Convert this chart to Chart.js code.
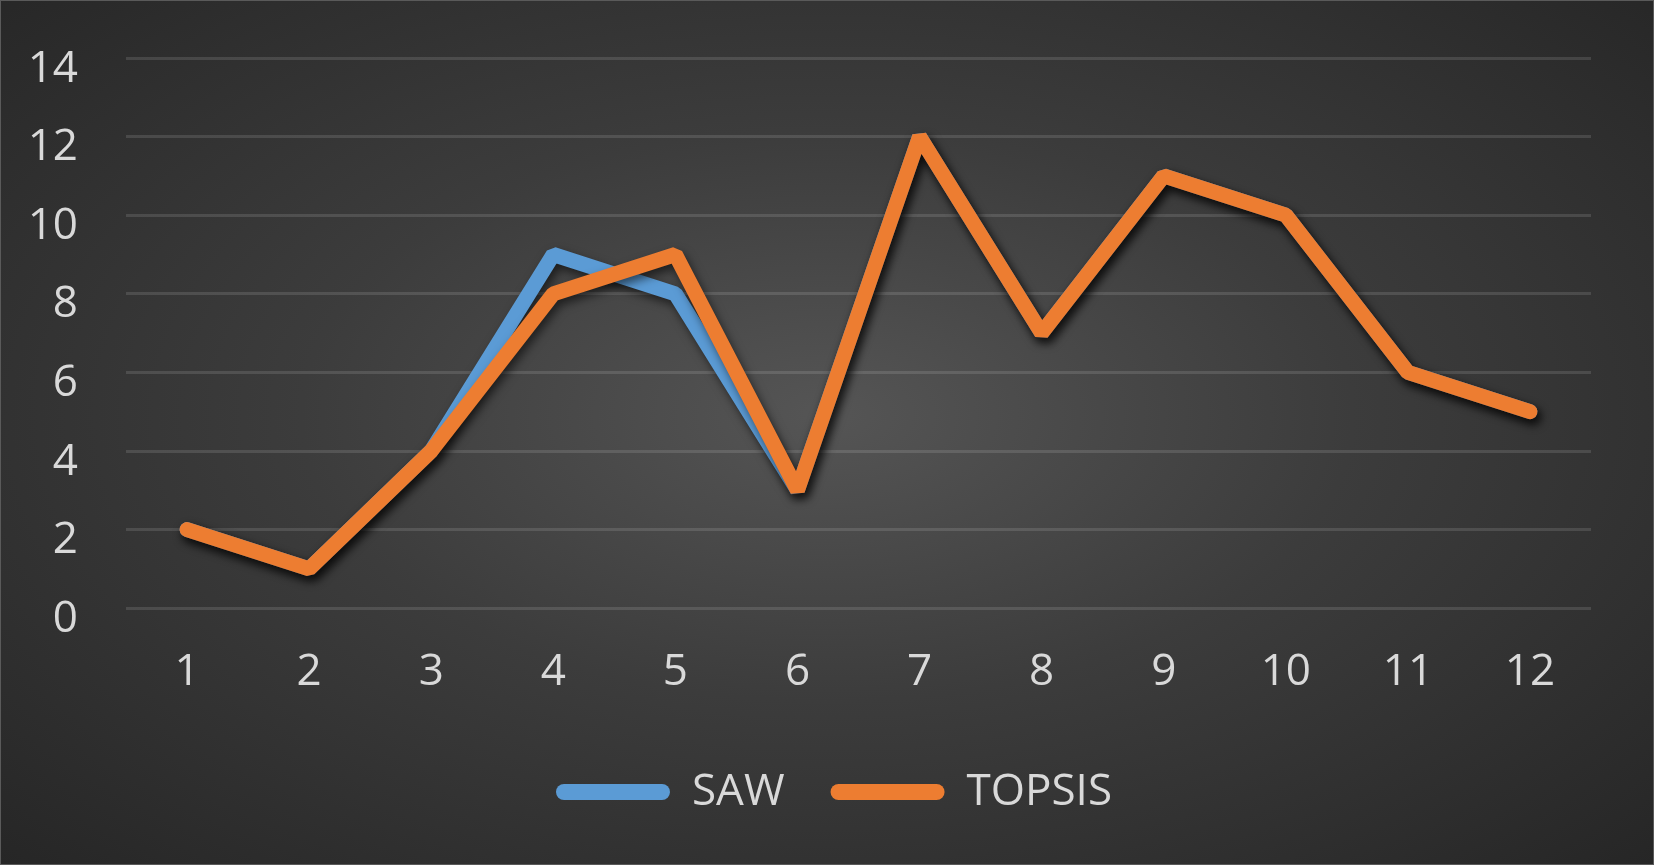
<!DOCTYPE html>
<html>
<head>
<meta charset="utf-8">
<script src="https://cdn.jsdelivr.net/npm/chart.js@4/dist/chart.umd.min.js"></script>
<style>
  html, body { margin: 0; padding: 0; background: #262626; }
  #wrap {
    width: 1654px; height: 865px; box-sizing: border-box;
    border: 1px solid #5a5a5a;
    background: radial-gradient(ellipse farthest-corner at 50% 48%, #555555 0%, #3c3c3c 45%, #262626 100%);
  }
  canvas { display: block; }
</style>
</head>
<body>
<div id="wrap"><canvas id="chart" width="1652" height="863"></canvas></div>
<script>
// --- DATA ---
const categories = ['1', '2', '3', '4', '5', '6', '7', '8', '9', '10', '11', '12'];
const sawValues = [2, 1, 4, 9, 8, 3, 12, 7, 11, 10, 6, 5];
const topsisValues = [2, 1, 4, 8, 9, 3, 12, 7, 11, 10, 6, 5];
const yTicks = [0, 2, 4, 6, 8, 10, 12, 14];

const textColor = '#d9d9d9';
const fontFamily = '"Open Sans", "Noto Sans", sans-serif';
const fontSize = 44;

// soft drop shadow under each line, like the office chart style
const lineShadow = {
    id: 'lineShadow',
    beforeDatasetDraw(chart) {
        const ctx = chart.ctx;
        ctx.save();
        ctx.shadowColor = 'rgba(0, 0, 0, 0.55)';
        ctx.shadowBlur = 10;
        ctx.shadowOffsetX = 3;
        ctx.shadowOffsetY = 5;
    },
    afterDatasetDraw(chart) {
        chart.ctx.restore();
    }
};

// move the legend row a bit right and lift it back up
// (its big label padding would otherwise push it down)
const legendShift = {
    id: 'legendShift',
    afterLayout(chart) {
        const lg = chart.legend;
        lg.left += 38;
        lg.right += 38;
        lg.top -= 13;
        lg.bottom -= 13;
    }
};

const ctx = document.getElementById('chart').getContext('2d');
new Chart(ctx, {
    type: 'line',
    data: {
        labels: categories,
        datasets: [
            {
                label: 'SAW',
                data: sawValues,
                borderColor: '#5B9BD5',
                backgroundColor: '#5B9BD5',
                order: 1
            },
            {
                label: 'TOPSIS',
                data: topsisValues,
                borderColor: '#ED7D31',
                backgroundColor: '#ED7D31',
                order: 0
            }
        ]
    },
    options: {
        responsive: false,
        animation: false,
        layout: { padding: { left: 0, right: 62, top: 57, bottom: 27 } },
        elements: {
            line: { borderWidth: 15, tension: 0, borderCapStyle: 'round', borderJoinStyle: 'bevel' },
            point: { radius: 0, hoverRadius: 0 }
        },
        scales: {
            x: {
                offset: true,
                grid: { display: false, drawTicks: false },
                border: { display: false },
                ticks: { color: textColor, font: { family: fontFamily, size: fontSize }, padding: 38 }
            },
            y: {
                min: 0,
                max: 14,
                afterBuildTicks: (axis) => { axis.ticks = yTicks.map(v => ({ value: v })); },
                afterFit: (axis) => {
                    axis.width = 125;
                    axis.paddingTop = 0;
                    axis.paddingBottom = 0;
                },
                grid: { color: 'rgba(255, 255, 255, 0.12)', lineWidth: 3, drawTicks: false },
                border: { display: false },
                ticks: { color: textColor, font: { family: fontFamily, size: fontSize }, padding: 48, labelOffset: 11 }
            }
        },
        plugins: {
            tooltip: { enabled: false },
            legend: {
                position: 'bottom',
                labels: {
                    color: textColor,
                    font: { family: fontFamily, size: fontSize },
                    boxWidth: 114,
                    boxHeight: 16,
                    useBorderRadius: true,
                    borderRadius: 8,
                    padding: 46,
                    sort: (a, b) => a.datasetIndex - b.datasetIndex,
                    generateLabels: (chart) => Chart.defaults.plugins.legend.labels.generateLabels(chart)
                        .map(item => ({ ...item, lineWidth: 0 }))
                }
            }
        }
    },
    plugins: [lineShadow, legendShift]
});
</script>
</body>
</html>
